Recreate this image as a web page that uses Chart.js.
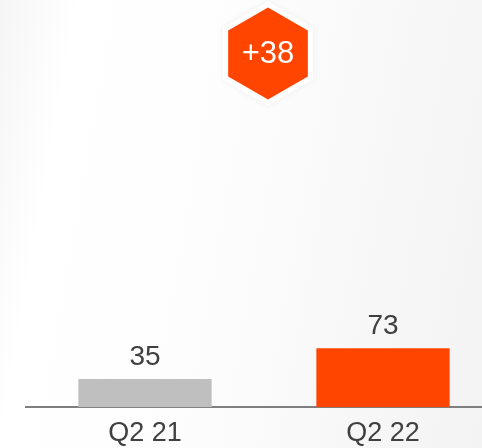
<!DOCTYPE html>
<html>
<head>
<meta charset="utf-8">
<script src="https://cdn.jsdelivr.net/npm/chart.js@4"></script>
<style>
  html, body { margin: 0; padding: 0; overflow: hidden; }
  body {
    width: 482px; height: 448px;
    background: linear-gradient(100deg, #f5f5f5 0%, #ffffff 14%, #fdfdfd 45%, #f3f3f3 100%);
  }
  #wrap { width: 502px; height: 459px; position: relative; }
</style>
</head>
<body>
<div id="wrap"><canvas id="chart"></canvas></div>
<script>
// data
const quarters = ['Q2 21', 'Q2 22'];
const values = [35, 73];
const barColors = ['#bfbfbf', '#ff4500'];

const textColor = '#404040';
const fontFamily = '"Liberation Sans", Arial, sans-serif';

// draws the numbers above the bars and the hexagon with the change
const labelsPlugin = {
    id: 'barLabels',
    afterDatasetsDraw(chart) {
        const ctx = chart.ctx;
        const bars = chart.getDatasetMeta(0).data;
        ctx.save();
        ctx.fillStyle = textColor;
        ctx.font = '28px ' + fontFamily;
        ctx.textAlign = 'center';
        ctx.textBaseline = 'middle';
        bars.forEach((bar, i) => {
            ctx.fillText(String(values[i]), bar.x, bar.y - 22);
        });

        // hexagon badge
        const cx = (bars[0].x + bars[1].x) / 2 + 4;
        const cy = 53.5;
        const hex = (r) => {
            ctx.beginPath();
            for (let k = 0; k < 6; k++) {
                const a = Math.PI / 2 + k * Math.PI / 3;
                const px = cx + r * Math.cos(a);
                const py = cy - r * Math.sin(a);
                if (k === 0) ctx.moveTo(px, py); else ctx.lineTo(px, py);
            }
            ctx.closePath();
        };
        ctx.shadowColor = 'rgba(0,0,0,0.06)';
        ctx.shadowBlur = 6;
        ctx.fillStyle = '#ffffff';
        hex(52);
        ctx.fill();
        ctx.shadowBlur = 0;
        ctx.fillStyle = '#ff4500';
        hex(46);
        ctx.fill();

        const diff = values[1] - values[0];
        ctx.fillStyle = '#ffffff';
        ctx.font = '31px ' + fontFamily;
        ctx.fillText((diff >= 0 ? '+' : '') + diff, cx, cy + 1);
        ctx.restore();
    }
};

new Chart(document.getElementById('chart'), {
    type: 'bar',
    data: {
        labels: quarters,
        datasets: [{
            data: values,
            backgroundColor: barColors,
            borderWidth: 0,
            categoryPercentage: 1,
            barPercentage: 0.56
        }]
    },
    options: {
        responsive: true,
        maintainAspectRatio: false,
        animation: false,
        layout: { padding: { top: 2, left: 26, right: 0, bottom: 0 } },
        plugins: {
            legend: { display: false },
            tooltip: { enabled: false }
        },
        scales: {
            x: {
                grid: { display: false, drawTicks: false },
                border: { display: true, color: '#7f7f7f', width: 2 },
                ticks: {
                    color: textColor,
                    font: { size: 27, family: fontFamily, lineHeight: 1.1 },
                    padding: 11
                }
            },
            y: {
                display: false,
                min: 0,
                max: 500
            }
        }
    },
    plugins: [labelsPlugin]
});
</script>
</body>
</html>
